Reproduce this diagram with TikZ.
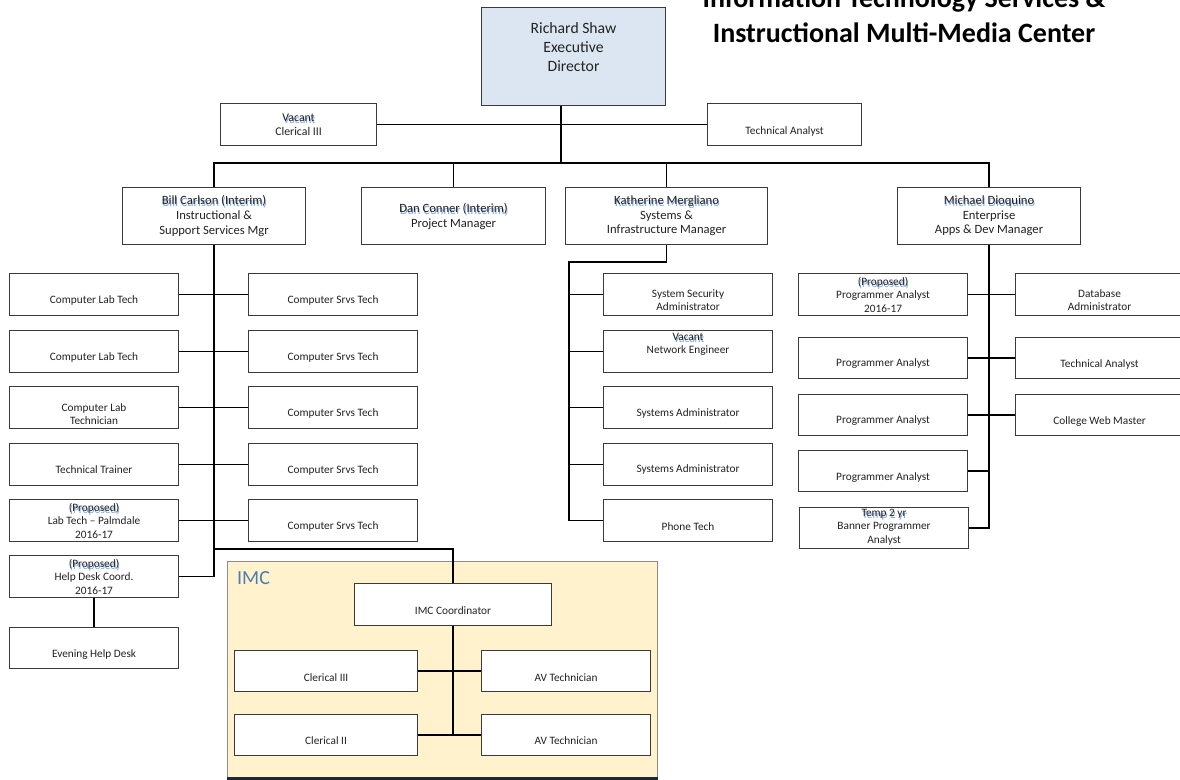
\documentclass[tikz,border=0pt]{standalone}
\usepackage{fontspec}
\setmainfont{Carlito}
\usetikzlibrary{calc}

\definecolor{execfill}{HTML}{DCE6F2}
\definecolor{imcfill}{HTML}{FFF2CC}
\definecolor{imcedge}{HTML}{8C8C8C}
\definecolor{imcbase}{HTML}{1C2833}
\definecolor{imclabel}{HTML}{4F7DAF}
\definecolor{ghostblue}{HTML}{7FA7DC}
\definecolor{ink}{HTML}{222222}
\definecolor{boxedge}{HTML}{3A3A3A}

% text with the faint blue duplicate printed just below it
\newcommand\ghosted[1]{\makebox[0pt][l]{\raisebox{-2pt}{\kern0.8pt\textcolor{ghostblue}{#1}}}#1}

\tikzset{
  box/.style={draw=boxedge, line width=1.1pt, fill=white, inner sep=0pt, anchor=north west},
  lbl/.style={text=ink, align=center, inner sep=0pt, font=\fontsize{11.3}{13.4}\selectfont},
  mgrlbl/.style={lbl, font=\fontsize{12.6}{14.6}\selectfont},
  conn/.style={draw=black, line width=1.8pt},
  thinconn/.style={draw=black, line width=1.5pt},
}

% \orgbox[box options]{name}{x1}{y1}{x2}{y2}{text shift}{text}
\newcommand\orgbox[8][]{%
  \node[box,#1,minimum width=#5pt-#3pt,minimum height=#6pt-#4pt] (#2) at (#3,#4) {};
  \node[lbl] (#2-t) at ($(#2.center)+(0,#7)$) {#8};}

\begin{document}
\begin{tikzpicture}[x=1pt,y=-1pt]
\useasboundingbox (0,0) rectangle (1180,779);

% heading
\node[font=\fontsize{28}{33}\bfseries, text=black] (title1) at (904,0) {Information Technology Services \&};
\node[font=\fontsize{28}{33}\bfseries, text=black] (title2) at (904,33) {Instructional Multi-Media Center};

% IMC group panel
\node[draw=imcedge, line width=1pt, fill=imcfill, anchor=north west, minimum width=430pt, minimum height=216pt, inner sep=0pt] (imc) at (227,561) {};
\draw[imcbase, line width=3pt] (imc.south west) -- (imc.south east);
\node[anchor=west, text=imclabel, font=\fontsize{20}{24}\selectfont, inner sep=0pt] (imclbl) at (237,578) {IMC};

% executive
\node[box, fill=execfill, minimum width=184pt, minimum height=98pt] (richard) at (481,7) {};
\node[lbl, font=\fontsize{15.7}{19}\selectfont] (richard-t) at ($(richard.center)+(0,-9)$) {Richard Shaw\\Executive\\Director};

\node[box, minimum width=156pt, minimum height=42pt] (vacant) at (220,103) {};
\node[lbl, font=\fontsize{11.8}{14}\selectfont] (vacant-t) at (vacant.center) {\ghosted{Vacant}\\Clerical III};
\orgbox{ta0}{707}{103}{861}{145}{7}{Technical Analyst}

% managers
\node[box, minimum width=183pt, minimum height=57pt] (bill) at (122,187) {};
\node[mgrlbl] (bill-t) at (bill.center) {\ghosted{Bill Carlson (Interim)}\\Instructional \&\\Support Services Mgr};
\node[box, minimum width=184pt, minimum height=57pt] (dan) at (361,187) {};
\node[mgrlbl] (dan-t) at ($(dan.center)+(0,0.5)$) {\ghosted{Dan Conner (Interim)}\\Project Manager};
\node[box, minimum width=202pt, minimum height=57pt] (kath) at (565,187) {};
\node[mgrlbl] (kath-t) at (kath.center) {\ghosted{Katherine Mergliano}\\Systems \&\\Infrastructure Manager};
\node[box, minimum width=183pt, minimum height=57pt] (mike) at (897,187) {};
\node[mgrlbl] (mike-t) at (mike.center) {\ghosted{Michael Dioquino}\\Enterprise\\Apps \& Dev Manager};

% instructional & support services
\orgbox{l1}{9}{273}{178}{315}{6}{Computer Lab Tech}
\orgbox{l2}{9}{330}{178}{372}{6}{Computer Lab Tech}
\orgbox{l3}{9}{386}{178}{428}{6.5}{Computer Lab\\Technician}
\orgbox{l4}{9}{443}{178}{485}{5.5}{Technical Trainer}
\orgbox{l5}{9}{499}{178}{541}{0}{\ghosted{(Proposed)}\\Lab Tech -- Palmdale\\2016-17}
\orgbox{help}{9}{555}{178}{597}{0}{\ghosted{(Proposed)}\\Help Desk Coord.\\2016-17}
\orgbox{evening}{9}{627}{178}{668}{6.5}{Evening Help Desk}
\orgbox{r1}{248}{273}{417}{315}{6}{Computer Srvs Tech}
\orgbox{r2}{248}{330}{417}{372}{6}{Computer Srvs Tech}
\orgbox{r3}{248}{386}{417}{428}{6}{Computer Srvs Tech}
\orgbox{r4}{248}{443}{417}{485}{6}{Computer Srvs Tech}
\orgbox{r5}{248}{499}{417}{541}{6}{Computer Srvs Tech}

% systems & infrastructure
\orgbox{k1}{603}{273}{772}{315}{5.5}{System Security\\Administrator}
\orgbox{k2}{603}{330}{772}{372}{-7.5}{\ghosted{Vacant}\\Network Engineer}
\orgbox{k3}{603}{386}{772}{428}{6}{Systems Administrator}
\orgbox{k4}{603}{443}{772}{485}{5}{Systems Administrator}
\orgbox{k5}{603}{499}{772}{541}{6}{Phone Tech}

% enterprise apps & development
\orgbox{m1}{798}{273}{967}{315}{0}{\ghosted{(Proposed)}\\Programmer Analyst\\2016-17}
\orgbox{m2}{798}{337}{967}{378}{5.5}{Programmer Analyst}
\orgbox{m3}{798}{394}{967}{435}{5.5}{Programmer Analyst}
\orgbox{m4}{798}{450}{967}{491}{6.5}{Programmer Analyst}
\orgbox{m5}{799}{507}{968}{548}{-1}{\ghosted{Temp 2 yr}\\Banner Programmer\\Analyst}
\orgbox{n1}{1015}{273}{1183}{315}{5.5}{Database\\Administrator}
\orgbox{n2}{1015}{337}{1183}{378}{6}{Technical Analyst}
\orgbox{n3}{1015}{394}{1183}{435}{6}{College Web Master}

% IMC staff
\orgbox{imcc}{354}{583}{551}{625}{6}{IMC Coordinator}
\orgbox{c3}{234}{650}{417}{691}{6.5}{Clerical III}
\orgbox{av1}{481}{650}{650}{691}{6.5}{AV Technician}
\orgbox{c2}{234}{714}{417}{755}{5.5}{Clerical II}
\orgbox{av2}{481}{714}{650}{755}{5.5}{AV Technician}

% reporting lines: top level
\coordinate (hub) at (561,163);
\draw[conn] (richard.south -| hub) -- (hub);
\draw[conn] (vacant.east) -- (ta0.west);
\draw[conn] (bill.north) |- (hub) -| (mike.north);
\draw[conn] (dan.north) -- (dan.north |- hub);
\draw[conn] (kath.north) -- (kath.north |- hub);

% reporting lines: instructional & support services
\draw[conn] (bill.south) |- (help.east);
\draw[conn] (l1.east) -- (r1.west);
\draw[conn] (l2.east) -- (r2.west);
\draw[conn] (l3.east) -- (r3.west);
\draw[conn] (l4.east) -- (r4.west);
\draw[conn] (l5.east) -- (r5.west);
\draw[conn] (help.south) -- (evening.north);
\coordinate (imcjoint) at (213.5,549);
\draw[conn] (imcjoint) -| (imcc.north);

% reporting lines: systems & infrastructure
\coordinate (kbus) at (569,262);
\draw[conn] (kath.south) |- (kbus) |- (k5.west);
\draw[conn] (kbus |- k1.west) -- (k1.west);
\draw[conn] (kbus |- k2.west) -- (k2.west);
\draw[conn] (kbus |- k3.west) -- (k3.west);
\draw[conn] (kbus |- k4.west) -- (k4.west);

% reporting lines: enterprise apps & development
\draw[conn] (mike.south) |- (m5.east);
\draw[conn] (m1.east) -- (n1.west);
\draw[conn] (m2.east) -- (n2.west);
\draw[conn] (m3.east) -- (n3.west);
\draw[conn] (m4.east) -- (m4.east -| mike.south);

% reporting lines: IMC
\draw[thinconn] (imcc.south) -- (imcc.south |- c2.east);
\draw[thinconn] (c3.east) -- (av1.west);
\draw[thinconn] (c2.east) -- (av2.west);
\end{tikzpicture}
\end{document}
